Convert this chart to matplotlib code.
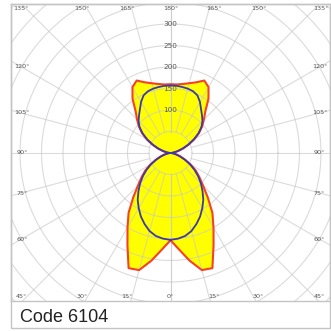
import numpy as np
import matplotlib
matplotlib.use("Agg")
import matplotlib.pyplot as plt
from matplotlib.patches import Rectangle

# gamma angle measured from nadir (0) to zenith (180), 5 degree steps
gamma = np.arange(0, 181, 5)

# C0-C180 plane (red, filled yellow)
red_cd = [203, 225, 254, 282, 285, 237, 200, 170, 135, 107, 88, 72, 55, 38, 26, 17, 10, 5, 3,
          5, 11, 20, 32, 47, 64, 81, 96, 110, 126, 154, 177, 186, 175, 168, 163, 160, 160]

# C90-C270 plane (blue)
blue_cd = [202, 200, 196, 188, 176, 163, 148, 133, 116, 100, 84, 68, 52, 37, 24, 14, 7, 2, 0,
           2, 8, 17, 30, 45, 62, 79, 94, 105, 114, 124, 137, 148, 153, 155, 156, 157, 157]

ring_values = [50, 100, 150, 200, 250, 300, 350, 400, 450, 500]
ring_labels = [100, 150, 200, 250, 300]
spoke_angles = np.arange(0, 181, 15)
caption = "Code 6104"


def closed_curve(vals):
    g = np.radians(gamma)
    r = np.asarray(vals, dtype=float)
    xl, yl = -r * np.sin(g), -r * np.cos(g)
    xr, yr = r[::-1] * np.sin(g[::-1]), -r[::-1] * np.cos(g[::-1])
    return np.concatenate([xl, xr]), np.concatenate([yl, yr])


W = H = 331
fig = plt.figure(figsize=(W / 100, H / 100), dpi=100)
fig.patch.set_facecolor("white")

# plot area in pixels
px_l, px_r, px_t, px_b = 11, 329.5, 4, 301
cx, cy = 170.5, 153
upp = 2.326  # data units per pixel

ax = fig.add_axes([px_l / W, (H - px_b) / H, (px_r - px_l) / W, (px_b - px_t) / H])
xmin, xmax = (px_l - cx) * upp, (px_r - cx) * upp
ymin, ymax = -(px_b - cy) * upp, (cy - px_t) * upp
ax.set_xlim(xmin, xmax)
ax.set_ylim(ymin, ymax)
ax.set_xticks([])
ax.set_yticks([])
for s in ax.spines.values():
    s.set_color("#c4c4c4")
    s.set_linewidth(1.0)

# curves
rx, ry = closed_curve(red_cd)
bx, by = closed_curve(blue_cd)
ax.fill(rx, ry, color="#ffff00", zorder=1, lw=0)

# grid on top of the fill
grid_c = "#c8c8c8"
t = np.linspace(0, 2 * np.pi, 400)
for rv in ring_values:
    ax.plot(rv * np.cos(t), rv * np.sin(t), color=grid_c, lw=0.8, alpha=0.65, zorder=2)
for a in spoke_angles:
    g = np.radians(a)
    for side in (-1, 1):
        ax.plot([side * 50 * np.sin(g), side * 700 * np.sin(g)],
                [-50 * np.cos(g), -700 * np.cos(g)], color=grid_c, lw=0.8, alpha=0.65, zorder=2)

ax.plot(rx, ry, color="#f5402a", lw=1.5, zorder=3)
ax.plot(bx, by, color="#3a3aa8", lw=1.3, zorder=4)

# radial value labels on the upper axis
for rv in ring_labels:
    ax.text(0, rv, str(rv), fontsize=5.2, color="#555555", ha="center", va="center", zorder=5)

# angle labels along the frame
il, ir = xmin + 9 * upp, xmax - 9 * upp
it, ib = ymax - 4 * upp, ymin + 4 * upp
for a in spoke_angles:
    g = np.radians(a)
    for side in (-1, 1):
        if side == 1 and a in (0, 180):
            continue
        dx, dy = side * np.sin(g), -np.cos(g)
        cand = []
        if abs(dx) > 1e-9:
            cand.append(((ir if dx > 0 else il) / dx, "side"))
        if abs(dy) > 1e-9:
            cand.append(((it if dy > 0 else ib) / dy, "tb"))
        k, where = min(cand)
        x, y = k * dx, k * dy
        if where == "tb" and a not in (0, 180):
            x += side * 5 * upp
        if where == "side":
            x = il + 2 * upp if side < 0 else ir - 1 * upp
        ax.text(x, y, f"{a}°", fontsize=4.6, color="#555555", ha="center", va="center", zorder=5)

# outer frame and caption
fig.add_artist(Rectangle((px_l / W, (H - 328) / H), (px_r - px_l) / W, (328 - px_t) / H,
                         transform=fig.transFigure, fill=False, ec="#c4c4c4", lw=1.0))
fig.text(20 / W, (H - 317) / H, caption, fontsize=13, family="Liberation Sans",
         color="#222222", ha="left", va="center")

fig.savefig("out.png", dpi=100)
